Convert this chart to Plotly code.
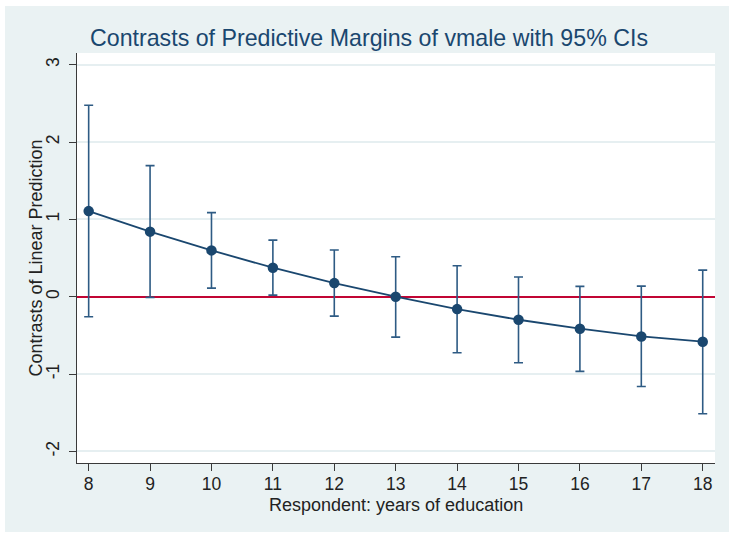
import plotly.graph_objects as go

# Contrasts of predictive margins of vmale by years of education
education = [8, 9, 10, 11, 12, 13, 14, 15, 16, 17, 18]
contrast = [1.107, 0.841, 0.599, 0.375, 0.176, 0.000, -0.160, -0.298, -0.414, -0.514, -0.582]
ci_upper = [2.475, 1.695, 1.087, 0.732, 0.603, 0.517, 0.401, 0.254, 0.133, 0.137, 0.344]
ci_lower = [-0.259, -0.009, 0.111, 0.021, -0.251, -0.522, -0.724, -0.854, -0.966, -1.160, -1.514]
y_ticks = [-2, -1, 0, 1, 2, 3]

NAVY = "#1a476f"
CI_COLOR = "#2e5b84"
RED = "#c10534"
BG = "#eaf2f3"
TXT = "#222222"
AXIS = "#3a3a3a"
FONT = "Liberation Sans, Arial, sans-serif"

W, H = 729, 533
ML, MR, MT, MB = 77, 14, 53, 70
pw, ph = W - ML - MR, H - MT - MB


def px_x(p):
    return (p - ML) / pw


def px_y(p):
    return (H - MB - p) / ph


err_plus = [u - c for u, c in zip(ci_upper, contrast)]
err_minus = [c - l for c, l in zip(contrast, ci_lower)]

# graph region: a tinted frame around the white plot region
gx0, gx1, gy0, gy1 = px_x(5), px_x(729), px_y(532), px_y(6)
frame = [
    (gx0, gx1, 1, gy1),   # top band
    (gx0, gx1, gy0, 0),   # bottom band
    (gx0, 0, 0, 1),       # left band
    (1, gx1, 0, 1),       # right band
]
shapes = [
    dict(type="rect", xref="paper", yref="paper",
         x0=a, x1=b, y0=c, y1=d,
         fillcolor=BG, line=dict(width=0), layer="below")
    for a, b, c, d in frame
]

fig = go.Figure()

fig.add_trace(go.Scatter(
    x=education, y=contrast,
    mode="lines+markers",
    line=dict(color=NAVY, width=1.8),
    marker=dict(color=NAVY, size=10.5),
    error_y=dict(type="data", array=err_plus, arrayminus=err_minus,
                 color=CI_COLOR, thickness=1.6, width=4.5),
    showlegend=False,
    hoverinfo="x+y",
))

fig.update_layout(
    width=W, height=H,
    margin=dict(l=ML, r=MR, t=MT, b=MB),
    paper_bgcolor="white",
    plot_bgcolor="white",
    font=dict(family=FONT, color=TXT),
    title=dict(
        text="Contrasts of Predictive Margins of vmale with 95% CIs",
        xref="container", x=369 / W, xanchor="center",
        yref="container", y=1 - 38 / H, yanchor="middle",
        font=dict(family=FONT, size=23.2, color=NAVY),
    ),
    shapes=shapes,
    annotations=[
        dict(text="Respondent: years of education",
             xref="paper", yref="paper", x=0.5, y=px_y(504.5),
             xanchor="center", yanchor="middle", showarrow=False,
             font=dict(family=FONT, size=18, color=TXT)),
        dict(text="Contrasts of Linear Prediction", textangle=-90,
             xref="paper", yref="paper", x=px_x(35.5), y=0.5,
             xanchor="center", yanchor="middle", showarrow=False,
             font=dict(family=FONT, size=18, color=TXT)),
    ],
)

fig.update_xaxes(
    range=[7.81, 18.2],
    tickmode="array", tickvals=education, ticktext=[str(v) for v in education],
    showgrid=False, zeroline=False,
    showline=True, linecolor=AXIS, linewidth=1.2,
    ticks="outside", ticklen=7, tickwidth=1.2, tickcolor=AXIS,
    ticklabelstandoff=-2,
    tickfont=dict(family=FONT, size=17.5, color=TXT),
)

# the zero line marks "no contrast": above the gridlines, beneath the data
fig.update_yaxes(
    range=[-2.15, 3.151],
    tickmode="array", tickvals=y_ticks, ticktext=[str(v) for v in y_ticks],
    tickangle=-90,
    showgrid=True, gridcolor="#e6eff1", gridwidth=1.5,
    zeroline=True, zerolinecolor=RED, zerolinewidth=1.6,
    showline=True, linecolor=AXIS, linewidth=1.2,
    ticks="outside", ticklen=7, tickwidth=1.2, tickcolor=AXIS,
    ticklabelstandoff=3,
    tickfont=dict(family=FONT, size=17.5, color=TXT),
)

fig.write_html("out.html")
